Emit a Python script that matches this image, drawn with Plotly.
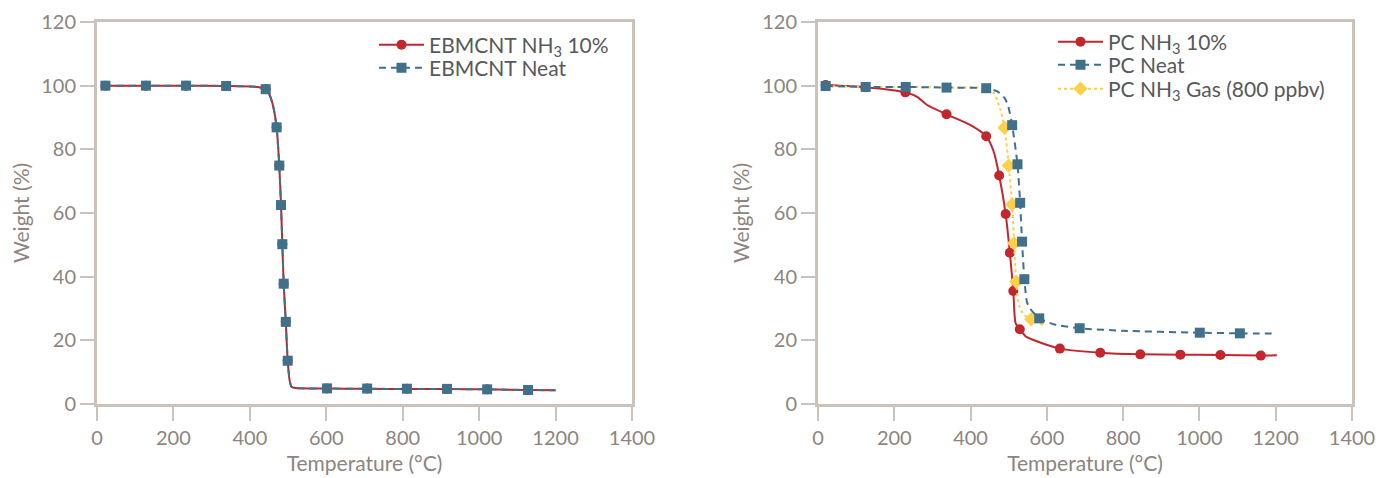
import plotly.graph_objects as go

# ---------------- Data ----------------
# Left panel: EBMCNT (both series overlap)
eb_curve_x = [20, 125, 230, 335, 420, 441, 452, 462, 470, 477, 481.5, 485, 488.5, 494, 499, 504, 509, 520, 600, 707, 811, 916, 1021, 1128, 1200]
eb_curve_y = [100, 100, 100, 99.9, 99.6, 98.9, 97, 93, 86.9, 74.9, 62.5, 50.2, 37.8, 25.8, 13.6, 7.5, 5.4, 5.0, 4.85, 4.8, 4.7, 4.7, 4.6, 4.4, 4.3]
eb_mark_x = [22, 128, 233, 338, 441.5, 470, 477, 481.5, 485, 488.5, 494, 499, 602, 707, 811, 916, 1021, 1128]
eb_mark_y = [100, 100, 100, 99.9, 98.9, 86.9, 74.9, 62.5, 50.2, 37.8, 25.8, 13.6, 4.9, 4.85, 4.8, 4.75, 4.6, 4.4]

# Right panel: PC NH3 10%
pc_nh3_curve_x = [20, 124, 229, 260, 285, 337, 400, 441, 460, 475, 492, 503, 512, 518, 529, 545, 565, 634, 740, 845, 950, 1055, 1161, 1203]
pc_nh3_curve_y = [100.2, 99.5, 97.9, 96.5, 94, 91, 87.6, 84.1, 79.5, 71.8, 59.7, 47.5, 35.5, 25.4, 23.5, 21.2, 20.1, 17.4, 16.1, 15.6, 15.5, 15.4, 15.2, 15.3]
pc_nh3_mark_x = [20, 124, 229, 337, 441, 475, 492, 503, 512, 529, 634, 740, 845, 950, 1055, 1161]
pc_nh3_mark_y = [100.2, 99.5, 97.9, 91, 84.1, 71.8, 59.7, 47.5, 35.5, 23.5, 17.4, 16.1, 15.6, 15.5, 15.4, 15.2]

# Right panel: PC Neat
pc_neat_curve_x = [20, 125, 230, 337, 441, 469, 477, 490, 499, 509, 523, 530, 535, 541, 548, 556, 580, 620, 686, 800, 1001, 1106, 1203]
pc_neat_curve_y = [99.9, 99.6, 99.6, 99.4, 99.2, 98.3, 97.6, 96.0, 93.4, 87.6, 75.3, 63.2, 51, 39.2, 32, 30, 26.9, 25, 23.8, 23, 22.4, 22.2, 22.1]
pc_neat_mark_x = [20, 125, 230, 337, 441, 509, 523, 530, 535, 541, 580, 686, 1001, 1106]
pc_neat_mark_y = [99.9, 99.6, 99.6, 99.4, 99.2, 87.6, 75.3, 63.2, 51, 39.2, 26.9, 23.8, 22.4, 22.2]

# Right panel: PC NH3 Gas (800 ppbv)
pc_gas_curve_x = [20, 125, 230, 337, 441, 462, 477, 489, 500, 509, 514, 519.6, 527, 540, 559, 590]
pc_gas_curve_y = [99.9, 99.6, 99.6, 99.4, 99.2, 97.5, 92.9, 86.8, 74.9, 62.7, 50.5, 38.4, 31, 28, 26.6, 24.8]
pc_gas_mark_x = [489, 500, 509, 514, 519.6, 559]
pc_gas_mark_y = [86.8, 74.9, 62.7, 50.5, 38.4, 26.6]

x_ticks = [0, 200, 400, 600, 800, 1000, 1200, 1400]
y_ticks = [0, 20, 40, 60, 80, 100, 120]

# ---------------- Styles ----------------
RED = "#c1272d"
BLUE = "#41718a"
YELLOW = "#fcd04b"
FRAME = "#cbc3bb"
TICKTXT = "#8c8580"
LEGTXT = "#58595b"
FONT = "Lato"

# The page adds an 8px body margin, so the figure is sized/positioned for that.
W, H = 1388, 470
T, PH = 14, 382  # top margin and plot height (px)

fig = go.Figure()


def add_series(xc, yc, xm, ym, color, dash, symbol, msize, name, xa, ya, legend):
    fig.add_trace(go.Scatter(x=xc, y=yc, mode="lines", xaxis=xa, yaxis=ya,
                             line=dict(color=color, width=2, dash=dash, shape="spline", smoothing=0.6),
                             showlegend=False, hoverinfo="skip"))
    fig.add_trace(go.Scatter(x=xm, y=ym, mode="markers", xaxis=xa, yaxis=ya,
                             marker=dict(color=color, size=msize, symbol=symbol),
                             showlegend=False))
    # legend entry (no data drawn)
    fig.add_trace(go.Scatter(x=[None], y=[None], mode="lines+markers", xaxis=xa, yaxis=ya,
                             line=dict(color=color, width=2, dash=dash),
                             marker=dict(color=color, size=msize, symbol=symbol),
                             name=name, legend=legend))


# Left panel
add_series(eb_curve_x, eb_curve_y, eb_mark_x, eb_mark_y, RED, "solid", "circle", 10,
           "EBMCNT NH<sub>3</sub> 10%", "x", "y", "legend")
add_series(eb_curve_x, eb_curve_y, eb_mark_x, eb_mark_y, BLUE, "7px,5px", "square", 10,
           "EBMCNT Neat", "x", "y", "legend2")

# Right panel
add_series(pc_nh3_curve_x, pc_nh3_curve_y, pc_nh3_mark_x, pc_nh3_mark_y, RED, "solid", "circle", 10,
           "PC NH<sub>3</sub> 10%", "x2", "y2", "legend3")
add_series(pc_gas_curve_x, pc_gas_curve_y, pc_gas_mark_x, pc_gas_mark_y, YELLOW, "3px,3px", "diamond", 11,
           "PC NH<sub>3</sub> Gas (800 ppbv)", "x2", "y2", "legend5")
add_series(pc_neat_curve_x, pc_neat_curve_y, pc_neat_mark_x, pc_neat_mark_y, BLUE, "7px,5px", "square", 10,
           "PC Neat", "x2", "y2", "legend4")

axis_common = dict(showline=True, linecolor=FRAME, linewidth=3, mirror=True,
                   ticks="outside", ticklen=14, tickwidth=2, tickcolor=FRAME,
                   showgrid=False, zeroline=False, automargin=False,
                   tickfont=dict(family=FONT, size=20, color=TICKTXT))

xaxis_common = dict(axis_common, range=[0, 1400], tickvals=x_ticks,
                    title=dict(text="Temperature (°C)", font=dict(family=FONT, size=21, color=TICKTXT), standoff=9))
yaxis_common = dict(axis_common, range=[0, 120], tickvals=y_ticks,
                    title=dict(text="Weight (%)", font=dict(family=FONT, size=21, color=TICKTXT), standoff=7))


def leg(xpx, ypx):
    return dict(x=xpx / W, y=(T + PH - ypx) / PH, xref="paper", yref="paper",
                xanchor="left", yanchor="middle", bgcolor="rgba(0,0,0,0)",
                borderwidth=0, itemwidth=45,
                font=dict(family=FONT, size=21, color=LEGTXT))


fig.update_layout(
    width=W, height=H,
    margin=dict(l=0, r=0, t=T, b=H - T - PH, autoexpand=False),
    paper_bgcolor="white", plot_bgcolor="white",
    font=dict(family=FONT, color=LEGTXT),
    xaxis=dict(xaxis_common, domain=[89 / W, 624 / W], anchor="y"),
    yaxis=dict(yaxis_common, domain=[0, 1], anchor="x"),
    xaxis2=dict(xaxis_common, domain=[810 / W, 1344 / W], anchor="y2"),
    yaxis2=dict(yaxis_common, domain=[0, 1], anchor="x2"),
    legend=leg(366, 37),
    legend2=leg(366, 60),
    legend3=leg(1045, 34),
    legend4=leg(1045, 57),
    legend5=leg(1045, 81),
    showlegend=True,
)

fig.write_html("out.html")
